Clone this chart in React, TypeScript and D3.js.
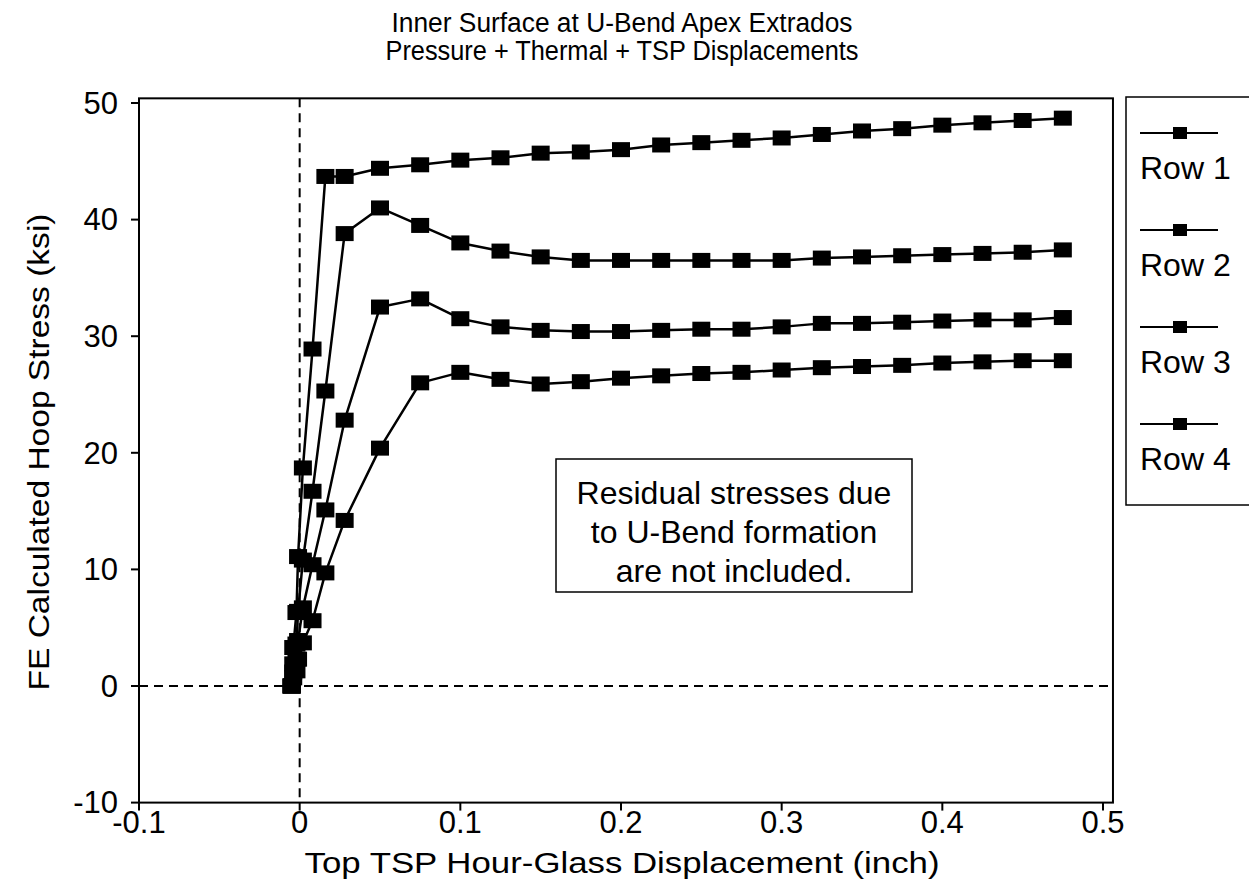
import * as d3 from 'd3';
import React from 'react';

// displacement (inch) shared by all rows
const displacement = [
  -0.005, -0.004, -0.002, -0.001, 0.002, 0.008, 0.016, 0.028,
  0.05, 0.075, 0.1, 0.125, 0.15, 0.175, 0.2, 0.225, 0.25, 0.275,
  0.3, 0.325, 0.35, 0.375, 0.4, 0.425, 0.45, 0.475,
];

// hoop stress (ksi)
const row1 = [
  0, 3.3, 6.3, 11.1, 18.7, 28.9, 43.7, 43.7,
  44.4, 44.7, 45.1, 45.3, 45.7, 45.8, 46.0, 46.4, 46.6, 46.8,
  47.0, 47.3, 47.6, 47.8, 48.1, 48.3, 48.5, 48.7,
];
const row2 = [
  0, 1.9, 3.6, 6.4, 10.8, 16.7, 25.3, 38.8,
  41.0, 39.5, 38.0, 37.3, 36.8, 36.5, 36.5, 36.5, 36.5, 36.5,
  36.5, 36.7, 36.8, 36.9, 37.0, 37.1, 37.2, 37.4,
];
const row3 = [
  0, 1.2, 2.3, 3.9, 6.7, 10.4, 15.1, 22.8,
  32.5, 33.2, 31.5, 30.8, 30.5, 30.4, 30.4, 30.5, 30.6, 30.6,
  30.8, 31.1, 31.1, 31.2, 31.3, 31.4, 31.4, 31.6,
];
const row4 = [
  0, 0.7, 1.3, 2.3, 3.7, 5.6, 9.7, 14.2,
  20.4, 26.0, 26.9, 26.3, 25.9, 26.1, 26.4, 26.6, 26.8, 26.9,
  27.1, 27.3, 27.4, 27.5, 27.7, 27.8, 27.9, 27.9,
];

const seriesNames = ['Row 1', 'Row 2', 'Row 3', 'Row 4'];
const xTicks = [-0.1, 0, 0.1, 0.2, 0.3, 0.4, 0.5];
const yTicks = [-10, 0, 10, 20, 30, 40, 50];
const titleLines = ['Inner Surface at U-Bend Apex Extrados', 'Pressure + Thermal + TSP Displacements'];
const noteLines = ['Residual stresses due', 'to U-Bend formation', 'are not included.'];

const W = 1249, H = 894;
const font = "'Liberation Sans', Arial, sans-serif";

const App = () => {
  const x = d3.scaleLinear().domain([-0.1, 0.5]).range([139, 1103]);
  const y = d3.scaleLinear().domain([-10, 50]).range([802.6, 103]);
  // plot frame runs a little past the last ticks
  const left = x(-0.1), right = x(0.5062), top = y(50.4), bottom = y(-10);

  const rows = [row1, row2, row3, row4];
  const line = d3.line<number>()
    .x((_, i) => x(displacement[i]))
    .y(d => y(d));

  const mw = 18, mh = 15;

  return (
    <svg width={W} height={H} style={{ position: 'absolute', left: 0, top: 0, background: '#fff' }} fontFamily={font}>
      <rect width={W} height={H} fill="#fff" />

      {titleLines.map((t, i) => (
        <text key={t} x={622} y={32 + i * 28} textAnchor="middle" fontSize={27}
          textLength={i === 0 ? 461 : 473} lengthAdjust="spacingAndGlyphs">{t}</text>
      ))}

      {/* zero reference lines */}
      <line x1={left} x2={right} y1={y(0)} y2={y(0)} stroke="#000" strokeWidth={2} strokeDasharray="9,6" />
      <line x1={x(0)} x2={x(0)} y1={top} y2={bottom} stroke="#000" strokeWidth={2} strokeDasharray="9,6" />

      {/* frame */}
      <rect x={left} y={top} width={right - left} height={bottom - top} fill="none" stroke="#000" strokeWidth={2} />

      {/* y axis */}
      {yTicks.map(t => (
        <g key={t}>
          <line x1={left - 8} x2={left} y1={y(t)} y2={y(t)} stroke="#000" strokeWidth={2} />
          <text x={118} y={y(t)} dy="0.35em" textAnchor="end" fontSize={31}>{t}</text>
        </g>
      ))}
      {/* x axis */}
      {xTicks.map(t => (
        <g key={t}>
          <line x1={x(t)} x2={x(t)} y1={bottom} y2={bottom + 8} stroke="#000" strokeWidth={2} />
          <text x={x(t)} y={bottom + 30} textAnchor="middle" fontSize={31}>{String(t)}</text>
        </g>
      ))}

      <text x={622} y={873} textAnchor="middle" fontSize={29} textLength={635} lengthAdjust="spacingAndGlyphs">
        Top TSP Hour-Glass Displacement (inch)
      </text>
      <text transform="translate(49,452) rotate(-90)" textAnchor="middle" fontSize={29} textLength={477} lengthAdjust="spacingAndGlyphs">
        FE Calculated Hoop Stress (ksi)
      </text>

      {/* series */}
      {rows.map((r, k) => (
        <g key={seriesNames[k]}>
          <path d={line(r) || ''} fill="none" stroke="#000" strokeWidth={2.5} strokeLinejoin="round" />
          {r.map((v, i) => (
            <rect key={i} x={x(displacement[i]) - mw / 2} y={y(v) - mh / 2} width={mw} height={mh} fill="#000" />
          ))}
        </g>
      ))}

      {/* note box */}
      <rect x={556} y={459} width={356} height={133} fill="#fff" stroke="#000" strokeWidth={1.5} />
      {noteLines.map((t, i) => (
        <text key={t} x={734} y={504 + i * 39} textAnchor="middle" fontSize={32}>{t}</text>
      ))}

      {/* legend */}
      <rect x={1126} y={97} width={140} height={408} fill="#fff" stroke="#000" strokeWidth={1.5} />
      {seriesNames.map((n, i) => (
        <g key={n} transform={`translate(0,${133 + i * 97})`}>
          <line x1={1140} x2={1218} y1={0} y2={0} stroke="#000" strokeWidth={2} />
          <rect x={1173} y={-6} width={14} height={12} fill="#000" />
          <text x={1140} y={35} dy="0.35em" fontSize={32}>{n}</text>
        </g>
      ))}
    </svg>
  );
};

export default App;
